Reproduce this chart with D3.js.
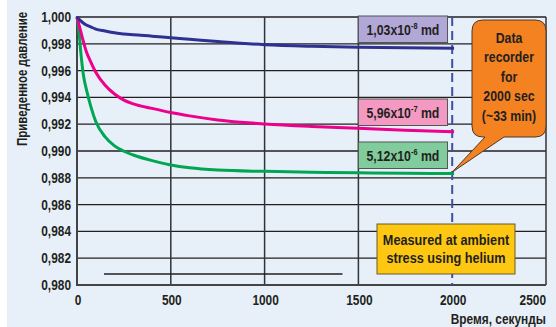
<!DOCTYPE html>
<html lang="ru">
<head>
<meta charset="UTF-8">
<title>Приведенное давление</title>
<script src="https://d3js.org/d3.v7.min.js"></script>
<style>
  html, body { margin: 0; padding: 0; background: #fff; }
  svg { display: block; }
  text { font-family: "Liberation Sans", Arial, sans-serif; font-weight: bold; fill: #231f20; }
</style>
</head>
<body>
<svg id="chart" width="556" height="327"></svg>
<script>
'use strict';

// time, seconds
const time = [0, 10, 20, 35, 50, 75, 100, 150, 200, 250, 300, 400, 500, 600, 750, 1000, 1250, 1500, 1750, 2010];
// normalised pressure per permeability
const blueVals  = [1.0000, 0.99985, 0.99971, 0.99953, 0.99940, 0.99925, 0.99910, 0.99895, 0.99882, 0.99874, 0.99867, 0.99857, 0.99845, 0.99834, 0.99817, 0.99793, 0.99781, 0.99774, 0.99770, 0.99766];
const pinkVals  = [1.0000, 0.99945, 0.99892, 0.99812, 0.99740, 0.99660, 0.99588, 0.99490, 0.99425, 0.99380, 0.99352, 0.99318, 0.99287, 0.99262, 0.99232, 0.99202, 0.99183, 0.99169, 0.99155, 0.99144];
const greenVals = [1.0000, 0.99900, 0.99740, 0.99560, 0.99460, 0.99326, 0.99220, 0.99105, 0.99038, 0.98998, 0.98970, 0.98928, 0.98896, 0.98875, 0.98858, 0.98848, 0.98842, 0.98837, 0.98834, 0.98832];

const xTicks = [0, 500, 1000, 1500, 2000, 2500];
const yTicks = d3.range(0, 11).map(i => 0.980 + i * 0.002);
const yLabel = 'Приведенное давление';
const xLabel = 'Время, секунды';
const calloutLines = ['Data', 'recorder', 'for', '2000 sec', '(~33 min)'];
const noteLines = ['Measured at ambient', 'stress using helium'];
const stray = { x: [144, 1415], y: 0.98082 };

const svg = d3.select('#chart');
const x = d3.scaleLinear().domain([0, 2500]).range([77, 546]);
const y = d3.scaleLinear().domain([0.980, 1.000]).range([285, 17]);
const NARROW = 0.82; // fake a narrow face

function label(px, py, size, anchor, rot) {
  return svg.append('text')
    .attr('transform', `translate(${px},${py})` + (rot ? ` rotate(${rot})` : '') + ` scale(${NARROW},1)`)
    .attr('text-anchor', anchor).attr('font-size', size);
}

svg.append('rect').attr('x', 7).attr('y', 0).attr('width', 549).attr('height', 327).attr('fill', '#e7f0f9');

// horizontal grid
svg.append('g').selectAll('line').data(yTicks.slice(1)).join('line')
  .attr('x1', x(0)).attr('x2', x(2500))
  .attr('y1', d => y(d)).attr('y2', d => y(d))
  .attr('stroke', '#231f20').attr('stroke-width', 1.3);

// vertical grid (2000 is the dashed marker)
svg.append('g').selectAll('line').data([500, 1000, 1500, 2500]).join('line')
  .attr('x1', d => x(d)).attr('x2', d => x(d))
  .attr('y1', y(1.0)).attr('y2', y(0.980))
  .attr('stroke', '#333').attr('stroke-width', 1.5);

// axes frame
svg.append('line').attr('x1', x(0)).attr('x2', x(0)).attr('y1', y(1.0) - 1).attr('y2', y(0.980) + 1)
  .attr('stroke', '#444').attr('stroke-width', 2);
svg.append('line').attr('x1', x(0)).attr('x2', x(2500)).attr('y1', y(0.980)).attr('y2', y(0.980))
  .attr('stroke', '#444').attr('stroke-width', 2);

// stray short line near bottom
svg.append('line').attr('x1', x(stray.x[0])).attr('x2', x(stray.x[1]))
  .attr('y1', y(stray.y)).attr('y2', y(stray.y))
  .attr('stroke', '#231f20').attr('stroke-width', 1.5);

// dashed marker at 2000 s
svg.append('line').attr('x1', x(2000)).attr('x2', x(2000)).attr('y1', y(1.0)).attr('y2', y(0.980))
  .attr('stroke', '#3d4fa6').attr('stroke-width', 2).attr('stroke-dasharray', '9,5');

// tick labels
yTicks.forEach(d => {
  label(71, y(d) + 5, 14.5, 'end').text(d3.format('.3f')(d).replace('.', ','));
});
xTicks.forEach(d => {
  const last = d === 2500;
  label(last ? x(d) : x(d) + 1, 305, 14.5, last ? 'end' : 'middle').text(d);
});

label(27, 79, 14, 'middle', -90).text(yLabel);
label(546, 324, 14.5, 'end').text(xLabel);

// curves
const line = d3.line().x((d, i) => x(time[i])).y(d => y(d)).curve(d3.curveMonotoneX);
[[greenVals, '#00a651'], [pinkVals, '#ec008c'], [blueVals, '#2e3192']].forEach(([vals, c]) => {
  svg.append('path').attr('d', line(vals)).attr('fill', 'none')
    .attr('stroke', c).attr('stroke-width', 3);
});

// permeability labels
const boxes = [
  { top: 16, fill: '#b2a8d7', base: '1,03x10', sup: '-8' },
  { top: 99, fill: '#f49ac2', base: '5,96x10', sup: '-7' },
  { top: 142, fill: '#80cc9c', base: '5,12x10', sup: '-6' }
];
boxes.forEach(b => {
  const x0 = x(1500), x1 = x(1975);
  svg.append('rect').attr('x', x0).attr('y', b.top).attr('width', x1 - x0).attr('height', 26.5)
    .attr('fill', b.fill).attr('stroke', '#555').attr('stroke-width', 1);
  const t = label((x0 + x1) / 2, b.top + 18.5, 15, 'middle');
  t.append('tspan').text(b.base);
  t.append('tspan').attr('font-size', 9).attr('dy', -6).text(b.sup);
  t.append('tspan').attr('dy', 6).text(' md');
});

// orange callout
const cx0 = 472, cx1 = 546, cy0 = 20, cy1 = 137, r = 11;
const tipX = x(2000), tipY = y(0.98842);
const p = d3.path();
p.moveTo(cx0 + r, cy0);
p.lineTo(cx1 - r, cy0); p.quadraticCurveTo(cx1, cy0, cx1, cy0 + r);
p.lineTo(cx1, cy1 - r); p.quadraticCurveTo(cx1, cy1, cx1 - r, cy1);
p.lineTo(504, cy1); p.lineTo(tipX, tipY); p.lineTo(485, cy1);
p.lineTo(cx0 + r, cy1); p.quadraticCurveTo(cx0, cy1, cx0, cy1 - r);
p.lineTo(cx0, cy0 + r); p.quadraticCurveTo(cx0, cy0, cx0 + r, cy0);
p.closePath();
svg.append('path').attr('d', p.toString()).attr('fill', '#f58220')
  .attr('stroke', '#4a3a2a').attr('stroke-width', 1);
calloutLines.forEach((d, i) => {
  label(509, 43 + i * 19.4, 15, 'middle').text(d);
});

// yellow note
svg.append('rect').attr('x', 377).attr('y', 224).attr('width', 138).attr('height', 50)
  .attr('fill', '#fdc712').attr('stroke', '#6b5a2a').attr('stroke-width', 1);
noteLines.forEach((d, i) => {
  label(446, 245 + i * 18, 15.5, 'middle').text(d);
});
</script>
</body>
</html>
